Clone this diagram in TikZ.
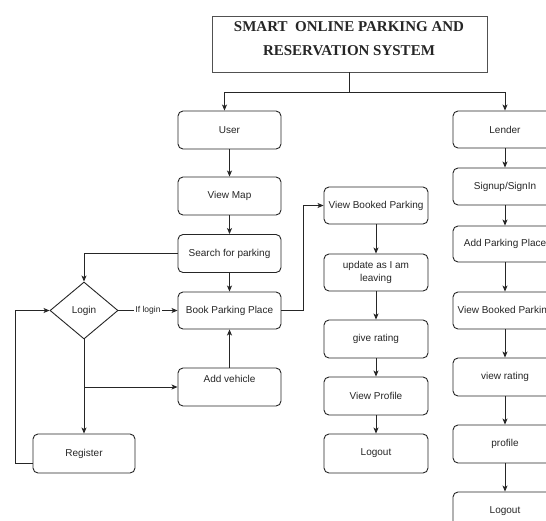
\documentclass[tikz,border=0pt]{standalone}
\usepackage{fontspec}
\newfontfamily\arialfont{Liberation Sans}
\newfontfamily\serffont{Liberation Serif}
\usetikzlibrary{shapes.geometric,arrows.meta,calc}
\definecolor{ink}{HTML}{262626}
\begin{document}
\begin{tikzpicture}[x=1pt,y=-1pt,
  box/.style={draw=ink, line width=0.9pt, rounded corners=5pt, minimum width=103pt, minimum height=38pt, inner sep=1pt, text=ink, font=\arialfont\fontsize{10}{13}\selectfont, align=center},
  arr/.style={draw=ink, line width=0.9pt, -{Stealth[length=6pt,width=5pt,inset=1.5pt]}},
  ln/.style={draw=ink, line width=0.9pt}]
\clip (0,0) rectangle (546,520);
\fill[white] (0,0) rectangle (546,520);
% title
\node[draw=ink!80, line width=0.8pt, minimum width=275pt, minimum height=56pt, inner sep=0] (title) at (349.5,44) {};
\node[text=ink, font=\serffont\bfseries\fontsize{15}{23.5}\selectfont, align=center] (titletext) at (349,38.5) {SMART\ \ ONLINE PARKING AND\\RESERVATION SYSTEM};
% user column
\node[box] (user) at (229.5,130) {User};
\node[box] (map) at (229.5,196) {View Map};
\node[box] (search) at (229.5,253.5) {Search for parking};
\node[box, minimum height=37pt] (book) at (229.5,310.5) {Book Parking Place};
\node[box, text height=7pt, text depth=16pt] (addv) at (229.5,387) {Add vehicle};
\node[draw=ink, line width=0.9pt, shape=diamond, minimum width=68pt, minimum height=57pt, inner sep=0, aspect=1.19, text=ink, font=\arialfont\fontsize{10}{12}\selectfont] (login) at (84,310.5) {Login};
\node[box, minimum width=102pt, minimum height=39pt] (register) at (84,453.5) {Register};
% middle column
\node[box, minimum width=104pt, minimum height=37pt] (vbp) at (376,205.5) {View Booked Parking};
\node[box, minimum width=104pt, minimum height=37pt] (update) at (376,272.5) {update as I am\\leaving};
\node[box, minimum width=104pt] (rate) at (376,339) {give rating};
\node[box, minimum width=104pt] (vprof) at (376,396) {View Profile};
\node[box, minimum width=104pt, minimum height=39pt] (logout1) at (376,453.5) {Logout};
% right column
\node[box, minimum width=104pt, minimum height=37pt] (lender) at (505,129.5) {Lender};
\node[box, minimum width=104pt, minimum height=37pt] (sign) at (505,186.5) {Signup/SignIn};
\node[box, minimum width=104pt, minimum height=36pt] (addp) at (505,244) {Add Parking Place};
\node[box, minimum width=104pt, minimum height=37pt] (vbp2) at (505,310.5) {View Booked Parking};
\node[box, minimum width=104pt] (vrate) at (505,377) {view rating};
\node[box, minimum width=104pt] (prof) at (505,444) {profile};
\node[box, minimum width=104pt] (logout2) at (505,511) {Logout};
% title connectors
\draw[ln] (title.south) -- ++(0,20) coordinate (tj);
\draw[arr] (tj) -| ([xshift=-5pt]user.north);
\draw[arr] (tj) -| (lender.north);
% user column connectors
\draw[arr] (user) -- (map);
\draw[arr] (map) -- (search);
\draw[arr] (search) -- (book);
\draw[arr] (search.west) -| (login.north);
\draw[arr] (login.east) -- node[fill=white, inner sep=1pt, text=ink, font=\arialfont\fontsize{8.5}{10}\selectfont] {If login} (book.west);
\draw[arr] (login.south) -- (register.north);
\coordinate (br) at (login.south |- 0,387);
\draw[arr] (br) -- (addv.west);
\draw[arr] (addv) -- (book);
\draw[arr] ([yshift=-9.5pt]register.west) -- ++(-17,0) |- (login.west);
\draw[arr] (book.east) -- ++(22,0) |- (vbp.west);
% middle column
\draw[arr] (vbp) -- (update);
\draw[arr] (update) -- (rate);
\draw[arr] (rate) -- (vprof);
\draw[arr] (vprof) -- (logout1);
% right column
\draw[arr] (lender) -- (sign);
\draw[arr] (sign) -- (addp);
\draw[arr] (addp) -- (vbp2);
\draw[arr] (vbp2) -- (vrate);
\draw[arr] (vrate) -- (prof);
\draw[arr] (prof) -- (logout2);
\end{tikzpicture}
\end{document}
